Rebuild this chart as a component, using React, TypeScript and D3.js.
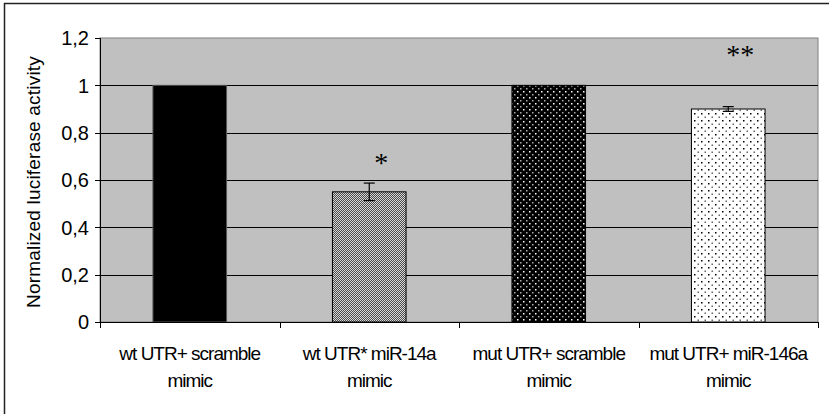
import * as d3 from 'd3';

const categories = [
  ['wt UTR+ scramble', 'mimic'],
  ['wt UTR* miR-14a', 'mimic'],
  ['mut UTR+ scramble', 'mimic'],
  ['mut UTR+ miR-146a', 'mimic'],
];
const values = [1, 0.55, 1, 0.9];
const errors = [0, 0.037, 0, 0.01];
const marks = ['', '*', '', '**'];
const fills = ['#000', 'url(#checker)', 'url(#darkDots)', 'url(#lightDots)'];
const yTicks = [0, 0.2, 0.4, 0.6, 0.8, 1, 1.2];

const W = 829;
const H = 414;
const margin = { top: 38, right: 11, bottom: 92, left: 100 };
const font = "'Liberation Sans', Arial, sans-serif";

const App = () => {
  const x = d3
    .scaleBand<number>()
    .domain(d3.range(categories.length))
    .range([margin.left, W - margin.right])
    .padding(0);
  const y = d3.scaleLinear().domain([0, 1.2]).range([H - margin.bottom, margin.top]);
  const fmt = (d: number) => d3.format('.1~f')(d).replace('.', ',');
  const barW = x.bandwidth() * 0.41;
  const y0 = y(0);
  const boundaries = d3.range(categories.length + 1).map((i) => margin.left + i * x.step());

  return (
    <svg width={W} height={H} style={{ position: 'absolute', left: 0, top: 0, background: '#fff' }}>
      <defs>
        <pattern id="checker" width="2" height="2" patternUnits="userSpaceOnUse">
          <rect width="2" height="2" fill="#4a4a4a" />
          <rect x="0" y="0" width="1" height="1" fill="#d8d8d8" />
          <rect x="1" y="1" width="1" height="1" fill="#d8d8d8" />
        </pattern>
        <pattern id="darkDots" width="6" height="6" patternUnits="userSpaceOnUse">
          <rect width="6" height="6" fill="#000" />
          <rect x="1" y="1" width="1.5" height="1.5" fill="#fff" />
          <rect x="4" y="4" width="1.5" height="1.5" fill="#aaa" />
        </pattern>
        <pattern id="lightDots" width="7" height="7" patternUnits="userSpaceOnUse">
          <rect width="7" height="7" fill="#fff" />
          <rect x="1" y="1" width="1.5" height="1.5" fill="#000" />
          <rect x="4.5" y="4.5" width="1.5" height="1.5" fill="#666" />
        </pattern>
      </defs>

      {/* outer chart frame, clipped at right and bottom like the source */}
      <rect x={4.5} y={3.5} width={840} height={430} fill="none" stroke="#222" strokeWidth={1.5} />

      {/* plot area */}
      <rect
        x={margin.left}
        y={margin.top}
        width={W - margin.left - margin.right}
        height={y0 - margin.top}
        fill="#c0c0c0"
        stroke="#808080"
        strokeWidth={1}
      />
      {yTicks.slice(1, -1).map((t) => (
        <line
          key={t}
          x1={margin.left}
          x2={W - margin.right}
          y1={Math.round(y(t)) + 0.5}
          y2={Math.round(y(t)) + 0.5}
          stroke="#000"
          strokeWidth={1}
        />
      ))}

      {/* bars */}
      {values.map((v, i) => {
        const cx = (x(i) as number) + x.bandwidth() / 2;
        return (
          <g key={i}>
            <rect
              x={cx - barW / 2}
              y={y(v)}
              width={barW}
              height={y0 - y(v)}
              fill={fills[i]}
              stroke={i === 0 ? '#555' : '#000'}
              strokeWidth={1}
            />
            {errors[i] > 0 && (
              <g stroke="#000" strokeWidth={1.2}>
                <line x1={cx} x2={cx} y1={y(v + errors[i])} y2={y(v - errors[i])} />
                <line x1={cx - 5.5} x2={cx + 5.5} y1={y(v + errors[i])} y2={y(v + errors[i])} />
                <line x1={cx - 5.5} x2={cx + 5.5} y1={y(v - errors[i])} y2={y(v - errors[i])} />
              </g>
            )}
            {marks[i] && (
              <text
                x={cx + 12}
                y={i === 1 ? 172 : 64}
                textAnchor="middle"
                fontFamily="'Liberation Serif', serif"
                fontSize={28}
                fill="#000"
              >
                {marks[i]}
              </text>
            )}
          </g>
        );
      })}

      {/* y axis */}
      <line x1={margin.left + 0.5} x2={margin.left + 0.5} y1={margin.top} y2={y0 + 5} stroke="#000" />
      {yTicks.map((t) => (
        <g key={t}>
          <line
            x1={margin.left - 5}
            x2={margin.left}
            y1={Math.round(y(t)) + 0.5}
            y2={Math.round(y(t)) + 0.5}
            stroke="#000"
          />
          <text x={89} y={y(t)} dy="0.36em" textAnchor="end" fontFamily={font} fontSize={20} fill="#000">
            {fmt(t)}
          </text>
        </g>
      ))}
      <text
        transform={`translate(40, ${(margin.top + y0) / 2 + 2}) rotate(-90)`}
        textAnchor="middle"
        fontFamily={font}
        fontSize={19}
        letterSpacing={0.2}
        fill="#000"
      >
        Normalized luciferase activity
      </text>

      {/* x axis */}
      <line x1={margin.left} x2={W - margin.right} y1={Math.round(y0) + 0.5} y2={Math.round(y0) + 0.5} stroke="#000" />
      {boundaries.map((b, i) => (
        <line key={i} x1={Math.round(b) + 0.5} x2={Math.round(b) + 0.5} y1={y0} y2={y0 + 6} stroke="#000" />
      ))}
      {categories.map((lines, i) => (
        <text
          key={i}
          x={(x(i) as number) + x.bandwidth() / 2}
          y={360}
          textAnchor="middle"
          fontFamily={font}
          fontSize={19}
          letterSpacing={-1}
          fill="#000"
        >
          {lines.map((l, j) => (
            <tspan key={j} x={(x(i) as number) + x.bandwidth() / 2} dy={j === 0 ? 0 : 27}>
              {l}
            </tspan>
          ))}
        </text>
      ))}
    </svg>
  );
};

export default App;
